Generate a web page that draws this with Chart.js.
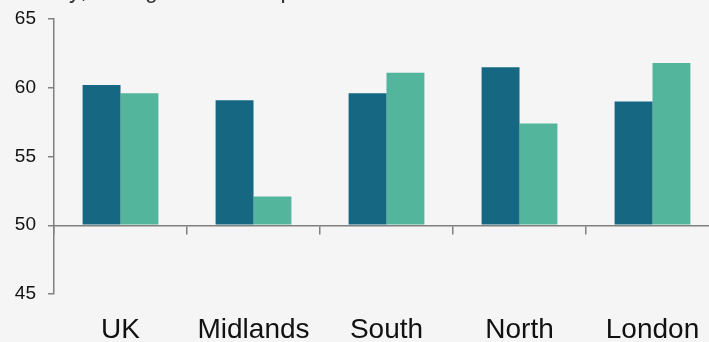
<!DOCTYPE html>
<html>
<head>
<meta charset="utf-8">
<script src="https://cdn.jsdelivr.net/npm/chart.js@4.4.1/dist/chart.umd.min.js"></script>
<style>
    html, body { margin: 0; padding: 0; background: #f5f5f5; overflow: hidden; }
    #wrap { position: relative; width: 709px; height: 342px; overflow: hidden; }
    #note { position: absolute; top: -21px; left: 0; white-space: nowrap;
            font: 23px "Liberation Sans", Arial, sans-serif; line-height: 23px; color: #333; }
    #box { position: absolute; top: 0; left: 0; width: 720px; height: 342px; }
</style>
</head>
<body>
<div id="wrap">
    <div id="box"><canvas id="chart"></canvas></div>
    <div id="note">Monthly; 50 = growth since previous month</div>
</div>
<script>
// Data
const regions = ['UK', 'Midlands', 'South', 'North', 'London'];
const seriesA = [60.2, 59.1, 59.6, 61.5, 59.0];
const seriesB = [59.6, 52.1, 61.1, 57.4, 61.8];
const yTicks = [45, 50, 55, 60, 65];

const AXIS = '#808080';
const FONT = '"Liberation Sans", Arial, sans-serif';

new Chart(document.getElementById('chart'), {
    type: 'bar',
    data: {
        labels: regions,
        datasets: [
            { data: seriesA, base: 50, backgroundColor: '#156782', xAxisID: 'x' },
            { data: seriesB, base: 50, backgroundColor: '#52b59c', xAxisID: 'x' }
        ]
    },
    options: {
        responsive: true,
        maintainAspectRatio: false,
        animation: false,
        layout: { padding: { top: 19, right: 1, left: 0, bottom: 0 } },
        datasets: { bar: { categoryPercentage: 0.57, barPercentage: 1.0 } },
        plugins: { legend: { display: false }, tooltip: { enabled: false } },
        scales: {
            x: {
                position: 'bottom',
                grid: { display: false, drawTicks: false },
                border: { display: false },
                ticks: { padding: 19, color: '#111', font: { family: FONT, size: 28 }, maxRotation: 0 },
                afterFit: s => { s.height = 48; }
            },
            xLine: {
                type: 'category',
                labels: regions,
                position: { y: 50 },
                offset: true,
                grid: { offset: true, drawOnChartArea: false, tickLength: 8, color: AXIS, lineWidth: 1.5 },
                border: { color: AXIS, width: 1.5 },
                ticks: { display: false }
            },
            y: {
                min: 45,
                max: 65,
                afterBuildTicks: s => { s.ticks = yTicks.map(v => ({ value: v })); },
                grid: { drawOnChartArea: false, tickLength: 6, color: AXIS, lineWidth: 1.5 },
                border: { color: AXIS, width: 1.5 },
                ticks: { padding: 12, color: '#111', font: { family: FONT, size: 19 } },
                afterFit: s => { s.width = 54; s.paddingTop = 0; s.paddingBottom = 0; }
            }
        }
    }
});
</script>
</body>
</html>
